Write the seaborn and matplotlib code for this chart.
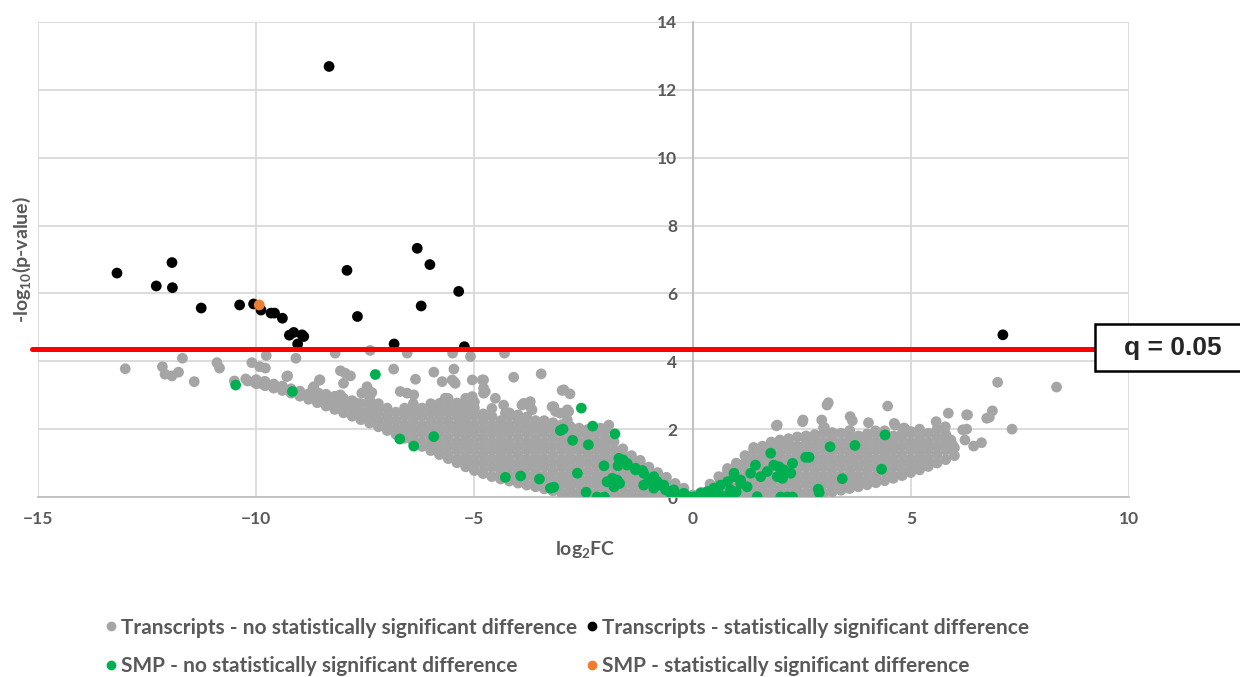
import numpy as np
import pandas as pd
import matplotlib.pyplot as plt
import matplotlib.patches as mpatches
from matplotlib.lines import Line2D
import seaborn as sns

# ---------------- values ----------------
# transcripts with a significant difference (black)
sig_x = [-13.19, -12.29, -11.93, -11.92, -11.26, -10.38, -10.06, -9.89, -9.66, -9.58,
         -9.40, -9.24, -9.14, -8.95, -8.91, -9.05, -8.33, -7.92, -7.68, -6.84,
         -6.31, -6.02, -6.22, -5.36, -5.23, 7.11]
sig_y = [6.60, 6.22, 6.91, 6.17, 5.57, 5.66, 5.69, 5.51, 5.42, 5.42,
         5.27, 4.77, 4.85, 4.78, 4.73, 4.51, 12.69, 6.68, 5.32, 4.51,
         7.33, 6.85, 5.63, 6.06, 4.43, 4.78]

# SMP with a significant difference (orange)
smp_sig_x = [-9.93]
smp_sig_y = [5.66]

# SMP, no significant difference (green)
smp_x = [-10.47, -9.17, -7.27, -6.71, -6.39, -5.93, -2.55, -2.29, -1.78, -3.03,
         -2.97, -2.75, -2.39, -4.29, -3.94, -3.51, -3.26, -3.18, -2.64, -2.44,
         -2.19, -2.02, -2.03, -1.71, -1.59, -1.50, -1.31, -1.15, -1.96, -1.84,
         -1.73, -1.67, -1.80, -1.12, -1.00, -0.89, -0.81, -0.73, -0.89, -0.62,
         -0.50, -0.35, -0.20, -0.08, 0.03, -1.69, -1.50, -1.31, -1.12, -0.89,
         -0.66, -0.43, -0.20,
         0.18, 0.34, 0.49, 0.64, 0.80, 0.95, 1.10, 0.87, 0.41, 0.72,
         1.33, 1.44, 1.56, 1.71, 1.79, 1.86, 1.98, 2.09, 2.25, 1.94,
         2.06, 1.48, 2.02, 2.17, 2.29, 2.59, 2.67, 2.88, 2.90, 3.15,
         3.43, 3.72, 4.33, 4.41, 0.95, 1.10, 1.25, 2.29, 0.83, 0.20,
         0.60, 1.00]
smp_y = [3.30, 3.11, 3.61, 1.71, 1.50, 1.78, 2.62, 2.09, 1.86, 1.96,
         2.00, 1.67, 1.54, 0.58, 0.62, 0.53, 0.26, 0.29, 0.70, 0.14,
         0.00, 0.00, 0.92, 0.92, 1.09, 0.99, 0.85, 0.78, 0.45, 0.55,
         0.50, 0.40, 0.30, 0.35, 0.50, 0.60, 0.45, 0.35, 0.26, 0.21,
         0.11, 0.06, 0.03, 0.00, 0.00, 1.14, 0.94, 0.80, 0.70, 0.55,
         0.35, 0.21, 0.11,
         0.11, 0.16, 0.26, 0.35, 0.45, 0.60, 0.40, 0.21, 0.00, 0.01,
         0.70, 0.94, 0.60, 0.75, 1.29, 0.94, 0.89, 0.80, 0.70, 0.60,
         0.55, 0.01, 0.00, 0.00, 0.00, 1.17, 1.17, 0.23, 0.13, 1.48,
         0.54, 1.52, 0.82, 1.83, 0.70, 0.50, 0.30, 0.99, 0.00, 0.03,
         0.10, 0.15]

# transcripts, no significant difference (grey): loose points above the cloud
grey_loose = [
    (-13.0, 3.78), (-12.15, 3.84), (-12.09, 3.62), (-11.93, 3.57), (-11.78, 3.68),
    (-11.69, 4.09), (-11.42, 3.40), (-10.90, 3.96), (-10.84, 3.80), (-10.50, 3.42),
    (-10.24, 3.48), (-10.10, 3.96), (-9.92, 3.84), (-9.79, 3.80), (-9.77, 4.17),
    (-10.06, 3.40), (-9.91, 3.35), (-9.75, 3.32), (-9.53, 3.25), (-9.37, 3.18),
    (-9.22, 3.11), (-9.28, 3.57), (-9.09, 4.09), (-8.19, 4.24), (-7.39, 4.32),
    (-6.54, 4.24), (-5.50, 4.24), (-5.09, 4.14), (-4.31, 4.24), (-8.54, 3.45),
    (-8.07, 3.72), (-7.96, 3.65), (-7.84, 3.57), (-6.85, 3.77), (-6.35, 3.47),
    (-5.93, 3.68), (-5.47, 3.77), (-5.74, 3.40), (-5.47, 3.40), (-5.05, 3.45),
    (-8.00, 3.35), (-8.68, 3.25), (-8.57, 3.06), (-8.07, 3.01), (-7.58, 3.06),
    (-7.46, 3.21), (-7.35, 3.08), (-6.70, 3.11), (-6.54, 3.06), (-6.39, 3.01),
    (-5.67, 2.91), (-7.69, 2.76), (-7.39, 2.81), (-9.30, 3.55), (-8.70, 3.21),
    (-8.55, 3.45), (-7.46, 3.25), (-5.44, 3.35), (-5.51, 3.45), (-4.82, 3.45),
    (-4.10, 3.53), (-3.47, 3.63), (-2.99, 3.14), (-2.81, 3.04), (-2.95, 3.16),
    (-4.79, 3.45), (-4.79, 3.21), (-4.75, 3.11), (-4.79, 3.06), (-4.52, 2.91),
    (-4.33, 2.71), (-4.29, 2.47), (-3.91, 2.71), (-3.72, 2.81), (-3.68, 2.57),
    (-3.87, 2.76), (-3.72, 2.66), (-3.22, 2.66), (-3.14, 2.52), (-3.18, 2.66),
    (-3.03, 2.47), (-2.87, 2.57), (-2.84, 2.52), (-2.87, 2.27), (-1.92, 2.12),
    (-2.00, 1.98), (-2.11, 2.03), (-5.63, 2.91), (-5.93, 2.62), (-5.05, 2.96),
    (-5.29, 2.32),
    (1.92, 2.10), (1.94, 2.12), (2.52, 2.22), (3.08, 2.71), (3.11, 2.78),
    (4.47, 2.68), (2.53, 2.27), (2.96, 2.27), (3.61, 2.37), (3.66, 2.25),
    (4.03, 2.19), (4.64, 2.12), (4.84, 2.03), (4.19, 1.95), (4.62, 2.17),
    (3.02, 2.05), (4.85, 2.03), (5.58, 2.22), (5.79, 2.07), (5.86, 2.47),
    (6.28, 2.42), (6.30, 2.42), (6.74, 2.32), (6.80, 2.35), (6.87, 2.54),
    (7.32, 2.00), (6.44, 1.50), (6.62, 1.60), (6.24, 1.68), (6.19, 1.98),
    (6.28, 2.00), (5.92, 1.68), (5.96, 1.53), (6.99, 3.38), (8.34, 3.24),
]

# grey dense cloud, one column of estimated y values per x position
grey_band = [
    (-10.2, [3.42]),
    (-10.0, [3.34, 3.46]),
    (-9.8, [3.28, 3.41]),
    (-9.6, [3.21, 3.33]),
    (-9.4, [3.14, 3.27]),
    (-9.2, [3.06, 3.19]),
    (-9.0, [2.97, 3.12]),
    (-8.8, [2.88, 3.04]),
    (-8.6, [2.78, 2.95]),
    (-8.4, [2.68, 2.86, 3.03]),
    (-8.2, [2.58, 2.77, 2.97]),
    (-8.0, [2.48, 2.69, 2.91]),
    (-7.8, [2.38, 2.62, 2.84]),
    (-7.6, [2.28, 2.50, 2.75]),
    (-7.4, [2.18, 2.38, 2.62, 2.88]),
    (-7.2, [2.07, 2.25, 2.50, 2.75]),
    (-7.0, [1.96, 2.12, 2.37, 2.62]),
    (-6.8, [1.85, 2.00, 2.25, 2.50]),
    (-6.6, [1.73, 1.88, 2.12, 2.38, 2.62]),
    (-6.4, [1.61, 1.75, 2.00, 2.25, 2.50, 2.75]),
    (-6.2, [1.49, 1.62, 1.88, 2.12, 2.38, 2.62]),
    (-6.0, [1.37, 1.50, 1.75, 2.00, 2.25, 2.50, 2.75]),
    (-5.8, [1.25, 1.38, 1.62, 1.88, 2.12, 2.38, 2.62, 2.76]),
    (-5.6, [1.13, 1.25, 1.50, 1.75, 2.00, 2.25, 2.50, 2.75, 2.90]),
    (-5.4, [1.01, 1.12, 1.38, 1.62, 1.88, 2.12, 2.38, 2.62, 2.77]),
    (-5.2, [0.89, 1.00, 1.25, 1.50, 1.75, 2.00, 2.25, 2.50, 2.75, 2.91]),
    (-5.0, [0.78, 0.88, 1.12, 1.38, 1.62, 1.88, 2.12, 2.38, 2.62, 2.80]),
    (-4.8, [0.69, 0.75, 1.00, 1.25, 1.50, 1.75, 2.00, 2.25, 2.45]),
    (-4.6, [0.60, 0.88, 1.12, 1.38, 1.62, 1.88, 2.12, 2.38, 2.61]),
    (-4.4, [0.53, 0.75, 1.00, 1.25, 1.50, 1.75, 2.00, 2.25]),
    (-4.2, [0.47, 0.62, 0.88, 1.12, 1.38, 1.62, 1.88, 2.12, 2.38, 2.48]),
    (-4.0, [0.41, 0.50, 0.75, 1.00, 1.25, 1.50, 1.75, 2.00, 2.25, 2.42]),
    (-3.8, [0.35, 0.62, 0.88, 1.12, 1.38, 1.62, 1.88, 2.12, 2.36]),
    (-3.6, [0.30, 0.50, 0.75, 1.00, 1.25, 1.50, 1.75, 2.00, 2.25]),
    (-3.4, [0.24, 0.38, 0.62, 0.88, 1.12, 1.38, 1.62, 1.88, 2.12, 2.25]),
    (-3.2, [0.18, 0.25, 0.50, 0.75, 1.00, 1.25, 1.50, 1.75, 2.00, 2.19]),
    (-3.0, [0.12, 0.38, 0.62, 0.88, 1.12, 1.38, 1.62, 1.88, 2.13]),
    (-2.8, [0.07, 0.25, 0.50, 0.75, 1.00, 1.25, 1.50, 1.75, 2.00, 2.08]),
    (-2.6, [0.02, 0.12, 0.38, 0.62, 0.88, 1.12, 1.38, 1.62, 1.88, 2.03]),
    (-2.4, [0.00, 0.25, 0.50, 0.75, 1.00, 1.25, 1.50, 1.75, 1.99]),
    (-2.2, [0.00, 0.12, 0.38, 0.62, 0.88, 1.12, 1.38, 1.62, 1.88]),
    (-2.0, [0.00, 0.25, 0.50, 0.75, 1.00, 1.25, 1.50, 1.73]),
    (-1.8, [0.00, 0.12, 0.38, 0.62, 0.88, 1.12, 1.38, 1.63]),
    (-1.6, [0.00, 0.25, 0.50, 0.75, 1.00, 1.25, 1.42]),
    (-1.4, [0.00, 0.12, 0.38, 0.62, 0.88, 1.12, 1.22]),
    (-1.2, [0.00, 0.25, 0.50, 0.75, 1.00, 1.08]),
    (-1.0, [0.00, 0.12, 0.38, 0.62, 0.88]),
    (-0.8, [0.00, 0.25, 0.50, 0.72]),
    (-0.6, [0.00, 0.12, 0.38, 0.58]),
    (-0.4, [0.00, 0.25, 0.40]),
    (-0.2, [0.00, 0.12, 0.26]),
    (0.0, [0.00, 0.06]),
    (0.2, [0.00, 0.14]),
    (0.4, [0.00, 0.25, 0.38]),
    (0.6, [0.00, 0.12, 0.38, 0.60]),
    (0.8, [0.00, 0.25, 0.50, 0.75, 0.84]),
    (1.0, [0.00, 0.12, 0.38, 0.62, 0.88, 1.00]),
    (1.2, [0.00, 0.25, 0.50, 0.75, 1.00, 1.22]),
    (1.4, [0.00, 0.12, 0.38, 0.62, 0.88, 1.12, 1.38, 1.46]),
    (1.6, [0.00, 0.25, 0.50, 0.75, 1.00, 1.25, 1.50]),
    (1.8, [0.00, 0.12, 0.38, 0.62, 0.88, 1.12, 1.38, 1.62]),
    (2.0, [0.00, 0.25, 0.50, 0.75, 1.00, 1.25, 1.50, 1.68]),
    (2.2, [0.00, 0.12, 0.38, 0.62, 0.88, 1.12, 1.38, 1.62, 1.72]),
    (2.4, [0.02, 0.25, 0.50, 0.75, 1.00, 1.25, 1.50, 1.77]),
    (2.6, [0.05, 0.12, 0.38, 0.62, 0.88, 1.12, 1.38, 1.62, 1.80]),
    (2.8, [0.08, 0.25, 0.50, 0.75, 1.00, 1.25, 1.50, 1.75, 1.84]),
    (3.0, [0.11, 0.38, 0.62, 0.88, 1.12, 1.38, 1.62, 1.88, 2.04]),
    (3.2, [0.15, 0.25, 0.50, 0.75, 1.00, 1.25, 1.50, 1.75, 1.90]),
    (3.4, [0.20, 0.38, 0.62, 0.88, 1.12, 1.38, 1.62, 1.88]),
    (3.6, [0.25, 0.50, 0.75, 1.00, 1.25, 1.50, 1.75, 1.96]),
    (3.8, [0.30, 0.38, 0.62, 0.88, 1.12, 1.38, 1.62, 1.80]),
    (4.0, [0.36, 0.50, 0.75, 1.00, 1.25, 1.50, 1.75, 1.86]),
    (4.2, [0.42, 0.62, 0.88, 1.12, 1.38, 1.62, 1.88]),
    (4.4, [0.48, 0.75, 1.00, 1.25, 1.50, 1.75, 1.95]),
    (4.6, [0.55, 0.62, 0.88, 1.12, 1.38, 1.62, 1.80]),
    (4.8, [0.63, 0.75, 1.00, 1.25, 1.50, 1.75, 1.88]),
    (5.0, [0.72, 0.88, 1.12, 1.38, 1.62, 1.88, 1.93]),
    (5.2, [0.80, 1.00, 1.25, 1.50, 1.75, 2.00]),
    (5.4, [0.90, 1.12, 1.38, 1.62, 1.88]),
    (5.6, [1.00, 1.25, 1.50, 1.75, 2.00]),
    (5.8, [1.10, 1.38, 1.62, 1.85]),
    (6.0, [1.22, 1.45]),
]

q_cut = 4.37
x_ticks = [-15, -10, -5, 0, 5, 10]
y_ticks = [0, 2, 4, 6, 8, 10, 12, 14]

groups = ['Transcripts - no statistically significant difference',
          'SMP - no statistically significant difference',
          'Transcripts - statistically significant difference',
          'SMP - statistically significant difference']
colors = ['#a5a5a5', '#00b050', '#000000', '#ed7d31']

# ---------------- build the table ----------------
gx = [p[0] for p in grey_loose] + [x for x, ys in grey_band for _ in ys]
gy = [p[1] for p in grey_loose] + [y for _, ys in grey_band for y in ys]

df = pd.concat([
    pd.DataFrame({'x': gx, 'y': gy, 'grp': groups[0]}),
    pd.DataFrame({'x': smp_x, 'y': smp_y, 'grp': groups[1]}),
    pd.DataFrame({'x': sig_x, 'y': sig_y, 'grp': groups[2]}),
    pd.DataFrame({'x': smp_sig_x, 'y': smp_sig_y, 'grp': groups[3]}),
], ignore_index=True)

sns.set_style('white')
plt.rcParams['font.family'] = ['Lato', 'DejaVu Sans']
plt.rcParams['mathtext.default'] = 'regular'
grey_txt = '#595959'

fig = plt.figure(figsize=(12.4, 6.77), dpi=100)
ax = fig.add_axes([38 / 1240, 180 / 677, 1091 / 1240, 475 / 677])

sns.scatterplot(data=df, x='x', y='y', hue='grp', hue_order=groups,
                palette=dict(zip(groups, colors)), s=60, linewidth=0,
                legend=False, zorder=3, ax=ax)

ax.set_xlim(-15, 10)
ax.set_ylim(0, 14)
ax.set_xticks(x_ticks)
ax.set_yticks(y_ticks)
ax.grid(True, color='#d9d9d9', lw=1.3)
ax.set_axisbelow(True)
for s in ['top', 'right']:
    ax.spines[s].set_visible(False)
ax.spines['left'].set_position(('data', 0))
ax.spines['left'].set_color('#bfbfbf')
ax.spines['left'].set_linewidth(1.3)
ax.spines['bottom'].set_color('#bfbfbf')
ax.spines['bottom'].set_linewidth(1.3)
ax.tick_params(axis='both', length=0, labelsize=12.5, labelcolor=grey_txt)
ax.tick_params(axis='x', pad=10)
ax.tick_params(axis='y', pad=11)
for lab in ax.get_xticklabels() + ax.get_yticklabels():
    lab.set_fontweight('bold')
ax.set_xlabel('')
ax.set_ylabel('')

fig.text(22 / 1240, 1 - 260 / 677, '-log$_{10}$(p-value)', rotation=90,
         ha='center', va='center', fontsize=14, fontweight='bold', color=grey_txt)
fig.text(585 / 1240, 1 - 550 / 677, 'log$_{2}$FC', ha='center', va='center',
         fontsize=14, fontweight='bold', color=grey_txt)

# significance threshold
ax.plot([-15.14, 9.6], [q_cut, q_cut], color='#ff0000', lw=3.6,
        clip_on=False, zorder=4)
box = mpatches.Rectangle((1095 / 1240, 1 - 371 / 677), 170 / 1240, 47 / 677,
                         transform=fig.transFigure, facecolor='white',
                         edgecolor='black', lw=1.8, zorder=5)
fig.patches.append(box)
fig.text(1173 / 1240, 1 - 348 / 677, 'q = 0.05', ha='center', va='center',
         fontsize=19, fontweight='bold', family='Liberation Sans', zorder=6)

handles = [Line2D([], [], marker='o', ls='', color=c, markersize=6) for c in colors]
fig.legend(handles, groups, loc='center', bbox_to_anchor=(566 / 1240, 1 - 647 / 677),
           ncol=2, frameon=False, handletextpad=0.1,
           columnspacing=0.3, labelspacing=0.9, handlelength=0.8,
           labelcolor=grey_txt, prop={'weight': 'bold', 'size': 15})

fig.savefig('out.png', dpi=100)
